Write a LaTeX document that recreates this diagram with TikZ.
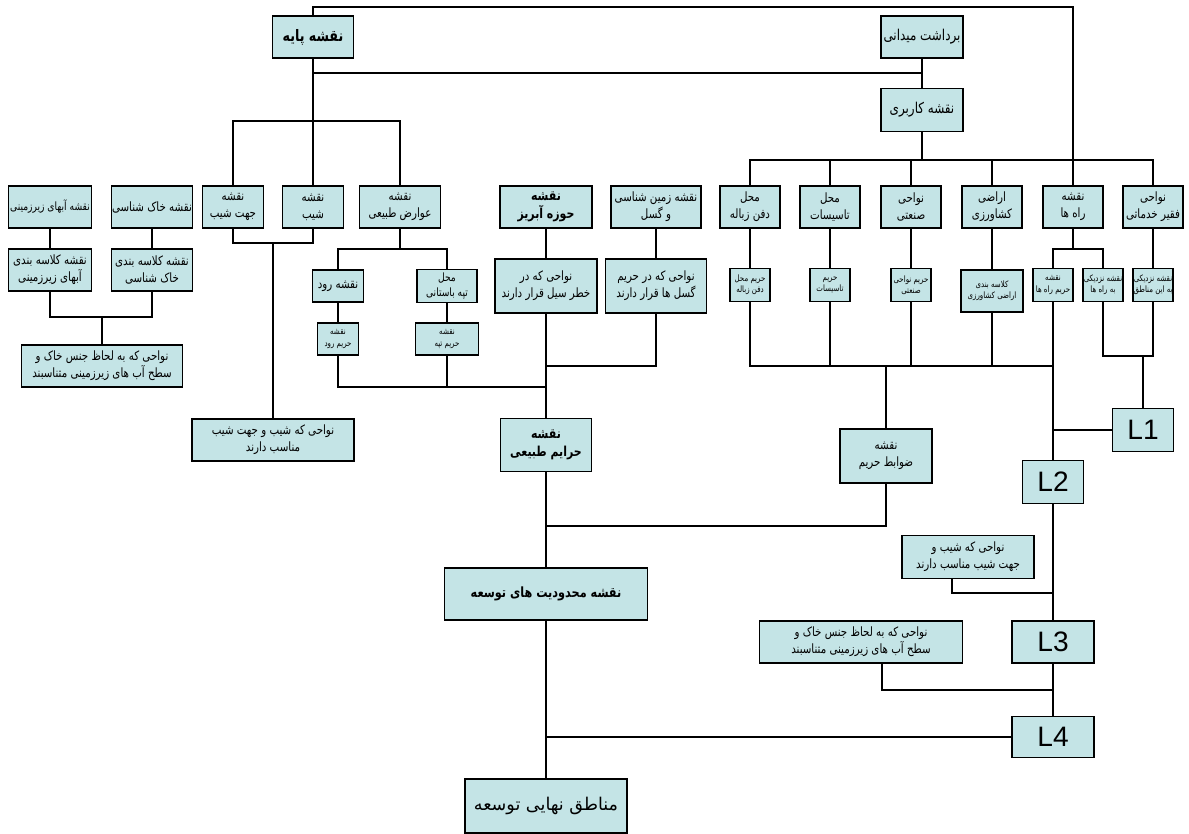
\documentclass[tikz,border=0pt]{standalone}
\usepackage{fontspec}
\TeXXeTstate=1
\newfontfamily\arabicfont[Script=Arabic, FakeStretch=0.8]{DejaVu Sans}
\newfontfamily\arabicwide[Script=Arabic]{DejaVu Sans}
\newfontfamily\latinfont{Liberation Sans}
\newcommand{\rl}[1]{\beginR#1\endR}
\definecolor{boxfill}{RGB}{196,228,230}
\tikzset{
  box/.style={draw, fill=boxfill, line width=0.6pt, inner sep=0pt, align=center,
    font=\arabicfont\fontsize{7.3}{9.8}\selectfont},
  bbox/.style={box, font=\arabicfont\bfseries\fontsize{7.8}{10.3}\selectfont},
  topbox/.style={box, font=\arabicfont\fontsize{8.5}{10}\selectfont},
  small/.style={box, font=\arabicfont\fontsize{5}{6.5}\selectfont},
  lbox/.style={box, font=\latinfont\fontsize{16}{18}\selectfont},
  sz/.style 2 args={minimum width=#1*0.02cm, minimum height=#2*0.02cm},
  link/.style={line width=0.6pt},
}
\begin{document}
\begin{tikzpicture}[x=0.02cm, y=-0.02cm]
\useasboundingbox (0,0) rectangle (1189,834);
% top
\node[bbox, sz={81}{42}, font=\arabicfont\bfseries\fontsize{9}{10}\selectfont] (base) at (313,37) {\rl{نقشه پایه}};
\node[topbox, sz={82}{42}] (survey) at (922,37) {\rl{برداشت میدانی}};
\node[topbox, sz={82}{43}] (landuse) at (922,110) {\rl{نقشه کاربری}};
% first row
\node[box, sz={83}{42}, font=\arabicfont\fontsize{6.5}{8}\selectfont] (gw) at (50,207) {\rl{نقشه آبهای زیرزمینی}};
\node[box, sz={81}{42}] (soil) at (152,207) {\rl{نقشه خاک شناسی}};
\node[box, sz={61}{42}] (aspect) at (233,207) {\rl{نقشه}\\\rl{جهت شیب}};
\node[box, sz={61}{42}] (slope) at (313,207) {\rl{نقشه}\\\rl{شیب}};
\node[box, sz={81}{42}] (natural) at (400,207) {\rl{نقشه}\\\rl{عوارض طبیعی}};
\node[bbox, sz={92}{42}] (basin) at (546,207) {\rl{نقشه}\\\rl{حوزه آبریز}};
\node[box, sz={90}{42}] (geo) at (656,207) {\rl{نقشه زمین شناسی}\\\rl{و گسل}};
\foreach \n/\x/\a/\b in {waste/750/محل/دفن زباله, fac/830/محل/تاسیسات,
  ind/911/نواحی/صنعتی, agr/992/اراضی/کشاورزی, road/1073/نقشه/راه ها,
  poor/1153/نواحی/فقیر خدماتی}
  \node[box, sz={60}{42}] (\n) at (\x,207) {\rl{\a}\\\rl{\b}};
% second row
\node[box, sz={83}{42}] (gwc) at (50,270) {\rl{نقشه کلاسه بندی}\\\rl{آبهای زیرزمینی}};
\node[box, sz={81}{42}] (soilc) at (152,270) {\rl{نقشه کلاسه بندی}\\\rl{خاک شناسی}};
\node[box, sz={161}{42}] (soilgw) at (102,366)
  {\rl{نواحی که به لحاظ جنس خاک و}\\\rl{سطح آب های زیرزمینی متناسبند}};
\node[box, sz={51}{32}] (river) at (338,286) {\rl{نقشه رود}};
\node[box, sz={60}{33}, font=\arabicfont\fontsize{6.5}{8.5}\selectfont] (hill) at (447,286) {\rl{محل}\\\rl{تپه باستانی}};
\node[small, sz={41}{32}] (riverz) at (338,339) {\rl{نقشه}\\\rl{حریم رود}};
\node[small, sz={63}{32}] (hillz) at (447,339) {\rl{نقشه}\\\rl{حریم تپه}};
\node[box, sz={102}{54}] (flood) at (546,286) {\rl{نواحی که در}\\\rl{خطر سیل قرار دارند}};
\node[box, sz={101}{54}] (fault) at (656,286) {\rl{نواحی که در حریم}\\\rl{گسل ها قرار دارند}};
\foreach \n/\x/\a/\b in {wastez/750/حریم محل/دفن زباله, facz/830/حریم/تاسیسات,
  indz/911/حریم نواحی/صنعتی, roadz/1053/نقشه/حریم راه ها,
  roadn/1103/نقشه نزدیکی/به راه ها, poorn/1153/نقشه نزدیکی/به این مناطق}
  \node[small, sz={40}{33}] (\n) at (\x,285) {\rl{\a}\\\rl{\b}};
\node[small, sz={62}{42}] (agrc) at (992,291) {\rl{کلاسه بندی}\\\rl{اراضی کشاورزی}};
% lower part
\node[box, sz={162}{42}] (slopeok) at (273,440) {\rl{نواحی که شیب و جهت شیب}\\\rl{مناسب دارند}};
\node[bbox, sz={91}{53}] (natz) at (546,445) {\rl{نقشه}\\\rl{حرایم طبیعی}};
\node[box, sz={92}{54}] (rules) at (886,456) {\rl{نقشه}\\\rl{ضوابط حریم}};
\node[lbox, sz={61}{43}] (L1) at (1143,430) {L1};
\node[lbox, sz={61}{43}] (L2) at (1053,482) {L2};
\node[box, sz={132}{43}] (slopeok2) at (968,557) {\rl{نواحی که شیب و}\\\rl{جهت شیب مناسب دارند}};
\node[bbox, sz={203}{52}, font=\arabicfont\bfseries\fontsize{8}{10}\selectfont] (limits) at (546,594) {\rl{نقشه محدودیت های توسعه}};
\node[lbox, sz={82}{42}] (L3) at (1053,642) {L3};
\node[box, sz={203}{42}] (soilgw2) at (861,642)
  {\rl{نواحی که به لحاظ جنس خاک و}\\\rl{سطح آب های زیرزمینی متناسبند}};
\node[lbox, sz={82}{41}] (L4) at (1053,737) {L4};
\node[box, sz={162}{54}, font=\arabicwide\fontsize{10}{12}\selectfont] (final) at (546,806) {\rl{مناطق نهایی توسعه}};
% bus points
\coordinate (ttop) at (700,7);
\coordinate (b1) at (313,121);
\coordinate (b2) at (313,73);
\coordinate (b3) at (922,160);
\coordinate (b4) at (400,249);
\coordinate (b5) at (1073,249);
\coordinate (b6) at (102,317);
\coordinate (b7) at (273,243);
\coordinate (b8) at (546,387);
\coordinate (b9) at (546,366);
\coordinate (b10) at (886,366);
\coordinate (b11) at (1143,356);
\coordinate (b12) at (546,526);
\coordinate (b13) at (1053,593);
\coordinate (b14) at (1053,690);
% links
\begin{scope}[link]
\draw (base.north) |- (ttop) -| (road.north);
\draw (base.south) -- (slope.north);
\draw (b2) -| (survey.south);
\draw (survey) -- (landuse);
\draw (aspect.north) |- (b1) -| (natural.north);
\draw (landuse.south) -- (b3);
\draw (waste.north) |- (b3) -| (poor.north);
\foreach \n in {fac,ind,agr}
  \draw (\n.north) -- (\n.north |- b3);
\draw (gw) -- (gwc);
\draw (soil) -- (soilc);
\draw (gwc.south) |- (b6) -| (soilc.south);
\draw (b6) -- (soilgw.north);
\draw (aspect.south) |- (b7) -| (slope.south);
\draw (b7) -- (slopeok.north);
\draw (natural.south) -- (b4);
\draw (river.north) |- (b4) -| (hill.north);
\draw (river) -- (riverz);
\draw (hill) -- (hillz);
\draw (riverz.south) |- (b8);
\draw (hillz.south) -- (hillz.south |- b8);
\draw (basin) -- (flood);
\draw (flood) -- (natz);
\draw (geo) -- (fault);
\draw (fault.south) |- (b9);
\foreach \a/\b in {waste/wastez,fac/facz,ind/indz,agr/agrc,poor/poorn}
  \draw (\a) -- (\b);
\draw (road.south) -- (b5);
\draw (roadz.north) |- (b5) -| (roadn.north);
\draw (wastez.south) |- (roadz.south |- b10);
\foreach \n in {facz,indz,agrc}
  \draw (\n.south) -- (\n.south |- b10);
\draw (b10) -- (rules.north);
\draw (roadz.south) -- (L2.north);
\draw (roadn.south) |- (b11) -| (poorn.south);
\draw (b11) -- (L1.north);
\draw (L1.west) -- (L1.west -| L2.north);
\draw (natz) -- (limits);
\draw (rules.south) |- (b12);
\draw (L2) -- (L3);
\draw ([xshift=-0.32cm]slopeok2.south) |- (b13);
\draw (L3) -- (L4);
\draw ([xshift=0.42cm]soilgw2.south) |- (b14);
\draw (limits) -- (final);
\draw (L4.west) -- (L4.west -| final.north);
\end{scope}
\end{tikzpicture}
\end{document}
